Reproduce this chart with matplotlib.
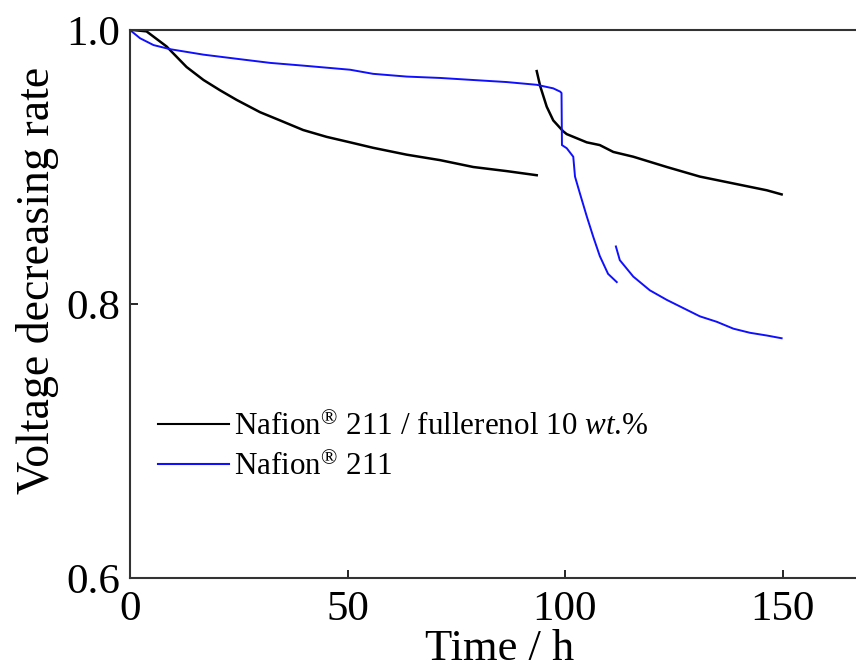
import matplotlib
matplotlib.use("Agg")
import matplotlib.pyplot as plt

plt.rcParams['font.family'] = ['Liberation Serif', 'DejaVu Serif']
plt.rcParams['mathtext.fontset'] = 'custom'
plt.rcParams['mathtext.rm'] = 'Liberation Serif'
plt.rcParams['mathtext.it'] = 'Liberation Serif:italic'

# Nafion 211 / fullerenol 10 wt.% (black), two segments
t_f1 = [0, 0.7, 3.8, 8.4, 13.0, 16.9, 20.7, 24.5, 29.9, 34.5, 39.8, 45.2, 50.6,
        55.9, 63.6, 71.3, 78.9, 86.6, 93.5]
v_f1 = [1.0, 1.0, 0.999, 0.988, 0.973, 0.9635, 0.956, 0.949, 0.940, 0.934, 0.927,
        0.922, 0.918, 0.914, 0.909, 0.905, 0.900, 0.897, 0.894]
t_f2 = [93.5, 94.3, 95.8, 97.3, 99.6, 100.4, 105.0, 108.0, 111.1, 115.7, 123.4,
        131.0, 138.7, 146.4, 149.8]
v_f2 = [0.970, 0.959, 0.944, 0.934, 0.926, 0.924, 0.918, 0.916, 0.911, 0.9075,
        0.900, 0.893, 0.888, 0.883, 0.880]

# Nafion 211 (blue), two segments
t_n1 = [0, 2.3, 5.4, 9.2, 16.9, 24.5, 32.2, 39.8, 50.6, 55.9, 63.6, 71.3, 78.9,
        86.6, 93.5, 97.3, 98.9, 99.2, 99.3, 100.4, 101.9, 102.3, 103.4, 105.0,
        106.5, 108.0, 109.9, 111.9]
v_n1 = [1.0, 0.994, 0.989, 0.986, 0.982, 0.979, 0.976, 0.974, 0.971, 0.968, 0.966,
        0.965, 0.9635, 0.962, 0.960, 0.9574, 0.955, 0.954, 0.916, 0.9137, 0.9075,
        0.893, 0.881, 0.864, 0.849, 0.835, 0.822, 0.816]
t_n2 = [111.7, 112.6, 115.7, 119.5, 123.4, 127.2, 131.0, 134.9, 138.7, 142.5,
        146.4, 149.8]
v_n2 = [0.842, 0.832, 0.820, 0.810, 0.803, 0.797, 0.791, 0.787, 0.782, 0.779,
        0.777, 0.775]

labels = [r'Nafion$^{\circledR}$ 211 / fullerenol 10 $\it{wt}$.%',
          r'Nafion$^{\circledR}$ 211']

fig = plt.figure(figsize=(8.56, 6.72), dpi=100)
ax = fig.add_axes([130/856, 1-578/672, 739.5/856, 548/672])

l1, = ax.plot(t_f1, v_f1, color='black', lw=1.8)
ax.plot(t_f2, v_f2, color='black', lw=1.8)
l2, = ax.plot(t_n1, v_n1, color='#1010ff', lw=1.4)
ax.plot(t_n2, v_n2, color='#1010ff', lw=1.4)

ax.set_xlim(0, 170)
ax.set_ylim(0.6, 1.0)
ax.set_xticks([0, 50, 100, 150])
ax.set_yticks([0.6, 0.8, 1.0])
ax.set_yticklabels(['0.6', '0.8', '1.0'])
ax.tick_params(direction='in', length=6, width=1.2, labelsize=31,
               top=False, right=False)
ax.tick_params(axis='x', pad=9)
ax.tick_params(axis='y', pad=7)
for s in ax.spines.values():
    s.set_linewidth(1.5)
    s.set_color('#333333')
ax.set_xlabel('Time / h', fontsize=32, labelpad=0)
ax.set_ylabel('Voltage decreasing rate', fontsize=33, labelpad=5, y=0.544)

leg = ax.legend([l1, l2], labels, loc='center left',
                bbox_to_anchor=(0.0162, 0.239), frameon=False, fontsize=22.4,
                handlelength=2.3, handletextpad=0.15, borderpad=0,
                labelspacing=0.35)
for h in leg.legend_handles:
    h.set_linewidth(1.5)

fig.savefig('out.png', dpi=100)
